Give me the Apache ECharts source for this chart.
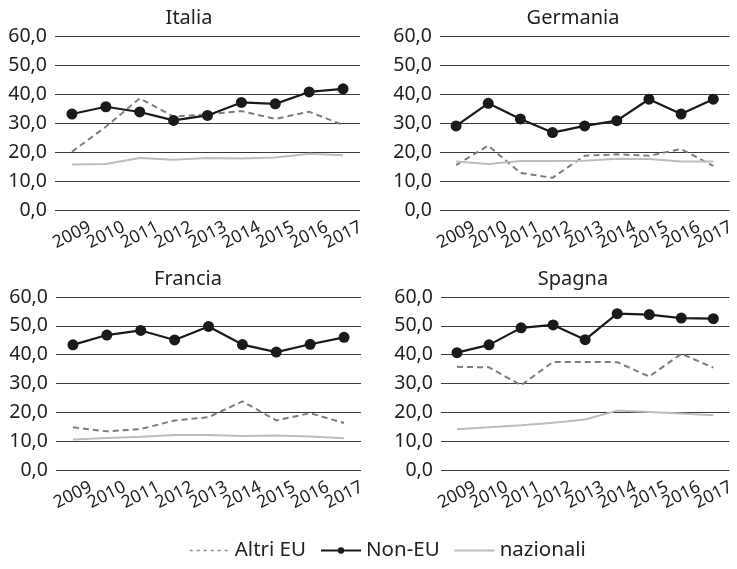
<!DOCTYPE html>
<html><head><meta charset="utf-8">
<script src="https://cdn.jsdelivr.net/npm/echarts@6/dist/echarts.min.js"></script>
<style>html,body{margin:0;padding:0;background:#fff}#c{width:737px;height:569px}</style>
</head><body><div id="c"></div>
<script>
const years = ['2009','2010','2011','2012','2013','2014','2015','2016','2017'];
const yTicks = [0,10,20,30,40,50,60];
const countries = ['Italia','Germania','Francia','Spagna'];
const seriesNames = ['Altri EU','Non-EU','nazionali'];

const italiaAltri = [20.1,28.7,38.5,32.2,33.0,34.1,31.4,33.9,29.3];
const italiaNonEU = [33.1,35.6,33.8,30.9,32.6,37.1,36.6,40.7,41.8];
const italiaNaz   = [15.7,15.9,17.9,17.3,17.9,17.8,18.1,19.4,18.9];

const germaniaAltri = [15.5,22.2,12.8,11.1,18.7,19.2,18.7,21.0,15.2];
const germaniaNonEU = [29.0,36.8,31.4,26.7,29.0,30.8,38.2,33.1,38.2];
const germaniaNaz   = [16.7,15.9,16.9,16.9,17.0,17.7,17.6,16.7,16.7];

const franciaAltri = [14.8,13.4,14.2,17.2,18.3,23.8,17.2,19.7,16.3];
const franciaNonEU = [43.4,46.8,48.4,45.1,49.8,43.5,40.9,43.6,46.0];
const franciaNaz   = [10.6,11.1,11.5,12.1,12.1,11.8,12.0,11.6,11.0];

const spagnaAltri = [35.8,35.6,29.4,37.5,37.5,37.4,32.4,40.3,35.5];
const spagnaNonEU = [40.7,43.4,49.3,50.3,45.2,54.2,53.9,52.7,52.5];
const spagnaNaz   = [14.1,14.8,15.5,16.4,17.5,20.6,20.1,19.6,19.0];

const data = [
  [italiaAltri, italiaNonEU, italiaNaz],
  [germaniaAltri, germaniaNonEU, germaniaNaz],
  [franciaAltri, franciaNonEU, franciaNaz],
  [spagnaAltri, spagnaNonEU, spagnaNaz]
];

const FONT = 'Noto Sans';
const grids = [
  {left:55, top:36, width:305, height:174},
  {left:440, top:36, width:305, height:174},
  {left:56, top:297, width:305, height:173},
  {left:441, top:297, width:305, height:173}
];
const titlePos = [{left:184,top:3},{left:568,top:3},{left:183,top:264},{left:568,top:264}];

const styles = [
  {color:'#7d7d7d', type:[6,4], width:2, symbol:'none'},
  {color:'#1a1a1a', type:'solid', width:2.2, symbol:'circle'},
  {color:'#bdbdbd', type:'solid', width:2, symbol:'none'}
];

const option = {
  animation:false,
  textStyle:{fontFamily:FONT},
  title: countries.map((c,i)=>({
    text:c, left:titlePos[i].left, top:titlePos[i].top, textAlign:'center',
    textStyle:{fontFamily:FONT, fontSize:20, fontWeight:'normal', color:'#222'}
  })),
  legend:{
    data:[
      {name:'Altri EU', itemStyle:{opacity:0}, lineStyle:{width:1.5, type:[3,4], color:'#888'}},
      {name:'Non-EU', itemStyle:{color:'#1a1a1a'}},
      {name:'nazionali', itemStyle:{opacity:0}}
    ],
    top:535, left:184, itemWidth:40, itemHeight:8, itemGap:14,
    textStyle:{fontFamily:FONT, fontSize:20.5, color:'#222'}
  },
  grid: grids,
  xAxis: grids.map((g,i)=>({
    type:'category', gridIndex:i, data:years, boundaryGap:true,
    axisLine:{show:false}, axisTick:{show:false},
    axisLabel:{rotate:27, fontSize:17.5, color:'#222', fontFamily:FONT, margin:25, interval:0,
      align:'center', verticalAlign:'middle'}
  })),
  yAxis: grids.map((g,i)=>({
    type:'value', gridIndex:i, min:yTicks[0], max:yTicks[yTicks.length-1], interval:10,
    axisLine:{show:false}, axisTick:{show:false},
    splitLine:{lineStyle:{color:'#3a3a3a', width:1}},
    axisLabel:{fontSize:19.5, color:'#222', fontFamily:FONT, margin:8,
      formatter:v=>v.toFixed(1).replace('.',',')}
  })),
  series: []
};

data.forEach((d,gi)=>{
  d.forEach((vals,si)=>{
    const s = styles[si];
    option.series.push({
      name:seriesNames[si], type:'line', xAxisIndex:gi, yAxisIndex:gi, data:vals,
      symbol:s.symbol, symbolSize:11, showSymbol:s.symbol!=='none',
      itemStyle:{color:s.color},
      lineStyle:{color:s.color, type:s.type, width:s.width},
      z: si===1 ? 3 : 2
    });
  });
});

const chart = echarts.init(document.getElementById('c'));
chart.setOption(option);
</script></body></html>
